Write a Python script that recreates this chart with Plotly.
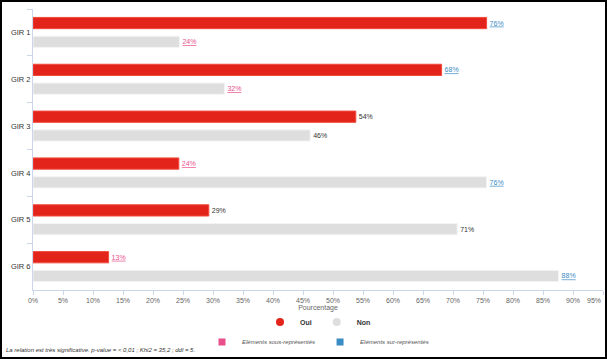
import plotly.graph_objects as go

categories = ["GIR 1", "GIR 2", "GIR 3", "GIR 4", "GIR 5", "GIR 6"]
oui_values = [75.6, 68.1, 53.8, 24.3, 29.3, 12.6]
non_values = [24.4, 31.9, 46.2, 75.6, 70.7, 87.6]
# significance: "sur" = over-represented, "sous" = under-represented, "" = none
oui_sig = ["sur", "sur", "", "sous", "", "sous"]
non_sig = ["sous", "sous", "", "sur", "", "sur"]
x_ticks = list(range(0, 100, 5))

W, H = 607, 359
ML, MR, MT, MB = 33, 4, 9, 69
PW, PH = W - ML - MR, H - MT - MB

RED = "#e3241a"
GRAY = "#dedede"
PINK = "#e8508c"
BLUE = "#3a8cc4"
FONT = "Liberation Sans, Arial, sans-serif"

def labels(vals, sig):
    out, cols = [], []
    for v, s in zip(vals, sig):
        t = f"{round(v)}%"
        if s == "sur":
            out.append(f'<span style="text-decoration:underline">{t}</span>')
            cols.append(BLUE)
        elif s == "sous":
            out.append(f'<span style="text-decoration:underline">{t}</span>')
            cols.append(PINK)
        else:
            out.append(t)
            cols.append("#333333")
    return out, cols

ot, oc = labels(oui_values, oui_sig)
nt, nc = labels(non_values, non_sig)

tick_text = [f"{v}%" for v in x_ticks]
last_tick_text = tick_text[-1]
tick_text[-1] = ""  # last label is drawn right-aligned so it stays inside the frame

fig = go.Figure()
fig.add_trace(go.Bar(
    y=categories, x=oui_values, orientation="h", name="Oui",
    marker=dict(color=RED, line=dict(color="#f04a3c", width=1)),
    text=ot, textposition="outside", textfont=dict(color=oc, size=7, family=FONT),
    constraintext="none", cliponaxis=False, showlegend=False,
))
fig.add_trace(go.Bar(
    y=categories, x=non_values, orientation="h", name="Non",
    marker=dict(color=GRAY, line=dict(color="#f4f4f4", width=1)),
    text=nt, textposition="outside", textfont=dict(color=nc, size=7, family=FONT),
    constraintext="none", cliponaxis=False, showlegend=False,
))
# legend entries
fig.add_trace(go.Scatter(x=[None], y=[None], mode="markers", name="<b>Oui</b>",
                         marker=dict(color=RED, size=8, symbol="circle"), legend="legend"))
fig.add_trace(go.Scatter(x=[None], y=[None], mode="markers", name="<b>Non</b>",
                         marker=dict(color=GRAY, size=8, symbol="circle"), legend="legend"))
fig.add_trace(go.Scatter(x=[None], y=[None], mode="markers", name="<i>Eléments sous-représentés</i>",
                         marker=dict(color=PINK, size=7, symbol="square"), legend="legend2"))
fig.add_trace(go.Scatter(x=[None], y=[None], mode="markers", name="<i>Eléments sur-représentés</i>",
                         marker=dict(color=BLUE, size=7, symbol="square"), legend="legend2"))

fig.update_layout(
    width=W, height=H,
    margin=dict(l=ML, r=MR, t=MT, b=MB, autoexpand=False),
    paper_bgcolor="white", plot_bgcolor="white",
    font=dict(family=FONT, size=8, color="#333333"),
    barmode="group", bargap=0.2, bargroupgap=0.4,
    xaxis=dict(
        range=[0, 95], tickvals=x_ticks, ticktext=tick_text,
        showgrid=False, zeroline=False, showline=True, linecolor="#ccd6eb", linewidth=1,
        ticks="outside", ticklen=4, tickcolor="#ccd6eb",
        tickfont=dict(size=7, color="#666666"),
        title=dict(text="Pourcentage", font=dict(size=7, color="#666666"), standoff=1),
        automargin=False,
    ),
    yaxis=dict(
        autorange="reversed", type="category", tickson="boundaries",
        showgrid=False, showline=True, linecolor="#ccd6eb", linewidth=1,
        ticks="outside", ticklen=5, tickcolor="#ccd6eb",
        tickfont=dict(size=7.5, color="#333333"), automargin=False,
    ),
    legend=dict(orientation="h", x=0.5, xanchor="center", y=(MT + PH - 322) / PH, yanchor="middle",
                font=dict(size=7, color="#333333"), itemwidth=30,
                bgcolor="rgba(0,0,0,0)", tracegroupgap=0),
    legend2=dict(orientation="h", x=0.5, xanchor="center", y=(MT + PH - 342) / PH, yanchor="middle",
                 font=dict(size=6, color="#555555"), itemwidth=30, bgcolor="rgba(0,0,0,0)"),
    annotations=[
        dict(
            text=last_tick_text, xref="x", yref="paper", x=x_ticks[-1], y=(MT + PH - 300) / PH,
            xanchor="right", yanchor="middle", showarrow=False,
            font=dict(size=7, color="#666666"),
        ),
        dict(
            text="<i>La relation est très significative. p-value = < 0,01 ; Khi2 = 35,2 ; ddl = 5.</i>",
            xref="paper", yref="paper", x=-(ML - 4) / PW, y=(MT + PH - 350) / PH,
            xanchor="left", yanchor="middle", showarrow=False,
            font=dict(size=6, color="#333333"),
        ),
    ],
    shapes=[dict(
        type="rect", xref="paper", yref="paper",
        x0=-(ML - 1) / PW, x1=1 + (MR - 1) / PW,
        y0=-(MB - 1) / PH, y1=1 + (MT - 1) / PH,
        line=dict(color="black", width=2), fillcolor="rgba(0,0,0,0)", layer="above",
    )],
)

fig.write_html(
    "out.html",
    config={"displayModeBar": False},
    post_script="document.body.style.margin='0';document.body.style.overflow='hidden';",
)
